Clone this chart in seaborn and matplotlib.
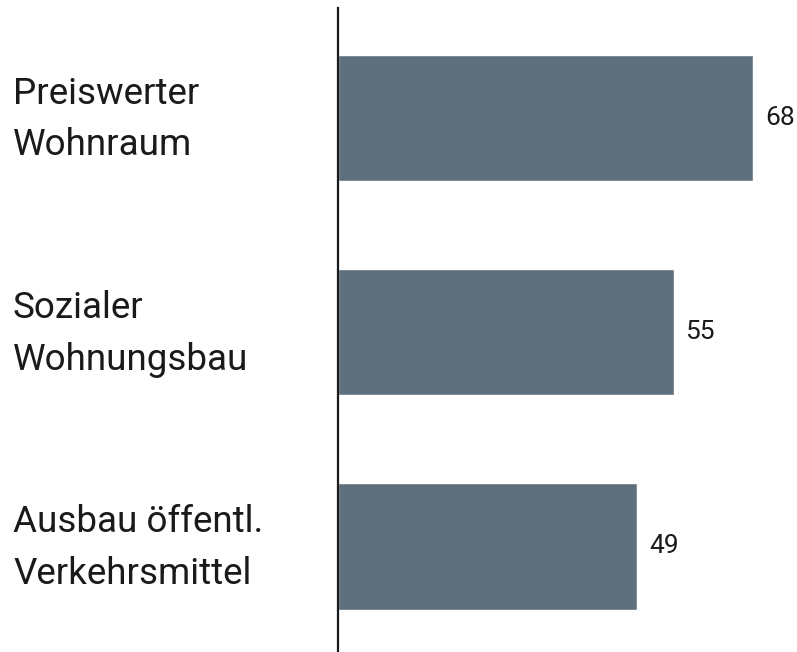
import matplotlib
matplotlib.use("Agg")
import matplotlib.pyplot as plt
import matplotlib.transforms as mtransforms
import seaborn as sns
import pandas as pd

categories = ["Preiswerter\nWohnraum", "Sozialer\nWohnungsbau", "Ausbau öffentl.\nVerkehrsmittel"]
values = [68, 55, 49]

sns.set_theme(style="white")
plt.rcParams['font.family'] = ['Roboto', 'DejaVu Sans']

df = pd.DataFrame({"cat": categories, "val": values})

W, H = 797, 652
fig = plt.figure(figsize=(W / 100, H / 100), dpi=100)
left_px, top_px = 338, 8
ax = fig.add_axes([left_px / W, 0, (W - left_px) / W, (H - top_px) / H])

sns.barplot(data=df, x="val", y="cat", orient="h", color="#5e707d",
            width=0.59, saturation=1, ax=ax)

ax.set_xlim(0, (W - left_px) / 6.1)
ax.set_ylim(2.493, -0.514)
ax.set_xlabel("")
ax.set_ylabel("")
ax.set_xticks([])
for s in ["top", "right", "bottom"]:
    ax.spines[s].set_visible(False)
ax.spines["left"].set_color("#1a1a1a")
ax.spines["left"].set_linewidth(1.6)

ax.tick_params(axis="y", length=0, pad=(left_px - 13) * 0.72, labelsize=26.5, labelcolor="#1a1a1a")
shift = mtransforms.ScaledTranslation(0, 10 / 100, fig.dpi_scale_trans)
for lbl in ax.get_yticklabels():
    lbl.set_horizontalalignment("left")
    lbl.set_linespacing(1.55)
    lbl.set_transform(lbl.get_transform() + shift)

for i, v in enumerate(values):
    ax.annotate(str(v), xy=(v, i), xytext=(12 * 0.72, 0), textcoords="offset points",
                ha="left", va="center", fontsize=19, color="#1a1a1a")

fig.savefig("out.png", dpi=100, facecolor="white")
